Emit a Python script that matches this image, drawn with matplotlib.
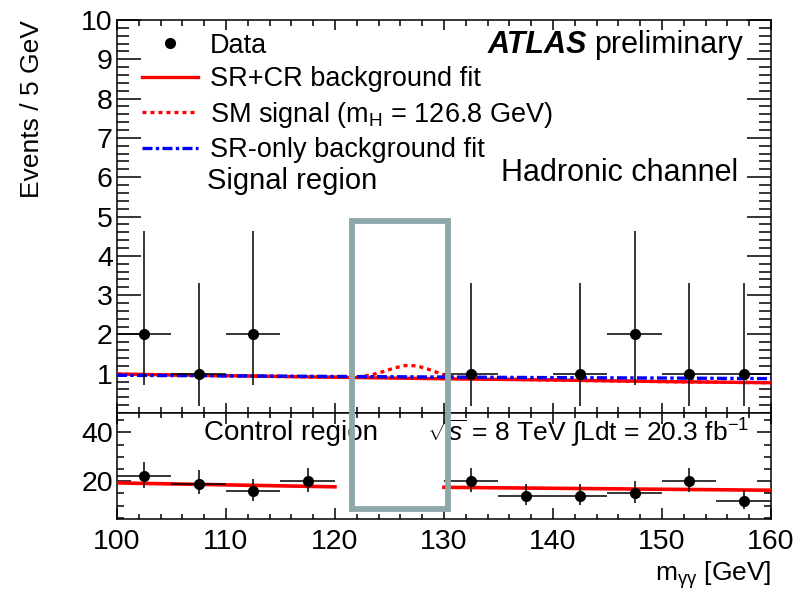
import numpy as np
import matplotlib
matplotlib.use("Agg")
from matplotlib import pyplot as plt
from matplotlib.lines import Line2D
from matplotlib.patches import Rectangle
from matplotlib.ticker import MultipleLocator, FixedLocator

# signal region data (blinded bins 122.5, 127.5 removed, zero bins not drawn)
sr_x = [102.5, 107.5, 112.5, 117.5, 132.5, 137.5, 142.5, 147.5, 152.5, 157.5]
sr_n = [2, 1, 2, 0, 1, 0, 1, 2, 1, 1]
sr_lo = [1.29, 0.83, 1.29, 0.0, 0.83, 0.0, 0.83, 1.29, 0.83, 0.83]
sr_hi = [2.64, 2.30, 2.64, 1.84, 2.30, 1.84, 2.30, 2.64, 2.30, 2.30]

# control region data
cr_x = [102.5, 107.5, 112.5, 117.5, 132.5, 137.5, 142.5, 147.5, 152.5, 157.5]
cr_n = [22, 19, 16, 20, 20, 14, 14, 15, 20, 12]
cr_lo = [4.65, 4.33, 3.97, 4.44, 4.44, 3.70, 3.70, 3.84, 4.44, 3.41]
cr_hi = [5.73, 5.40, 5.06, 5.52, 5.52, 4.80, 4.80, 4.93, 5.52, 4.52]

# fit curves
fit_x = [100, 110, 120, 130, 140, 150, 160]
fit_srcr = [0.99, 0.95, 0.91, 0.87, 0.84, 0.80, 0.77]
fit_sronly = [0.96, 0.945, 0.93, 0.915, 0.90, 0.89, 0.875]
sig_x = [100, 110, 120, 121.5, 122.5, 123.5, 124.5, 125.5, 126.5, 127.5, 128.5,
         129.5, 130.5, 131.5, 140, 150, 160]
sig_y = [0.99, 0.95, 0.91, 0.905, 0.93, 0.98, 1.06, 1.15, 1.21, 1.20, 1.12,
         1.02, 0.93, 0.88, 0.84, 0.80, 0.77]
cr_fit_x1 = [100, 110, 120]
cr_fit_y1 = [19.3, 18.5, 17.7]
cr_fit_x2 = [130, 140, 150, 160]
cr_fit_y2 = [17.5, 17.1, 16.7, 16.3]

plt.rcParams["font.family"] = ["Liberation Sans", "DejaVu Sans"]
plt.rcParams["mathtext.fontset"] = "custom"
plt.rcParams["mathtext.rm"] = "Liberation Sans"
plt.rcParams["mathtext.it"] = "Liberation Sans:italic"
plt.rcParams["font.size"] = 18

fig = plt.figure(figsize=(8.05, 5.94), dpi=100)
ax = fig.add_axes([0.1453, 0.3047, 0.8124, 0.6616])
ax2 = fig.add_axes([0.1453, 0.1263, 0.8124, 0.1784])

# upper panel
ax.plot(fit_x, fit_srcr, color="red", lw=2.4, zorder=3)
ax.plot(sig_x, sig_y, color="red", lw=2.4, ls=(0, (1.2, 1.2)), zorder=3)
ax.plot(fit_x, fit_sronly, color="blue", lw=2.4, ls=(0, (3, 1, 1, 1)), zorder=3)

n = np.array(sr_n, dtype=float)
mask = n > 0
ax.errorbar(np.array(sr_x)[mask], n[mask],
            yerr=[np.array(sr_lo)[mask], np.array(sr_hi)[mask]], xerr=2.5,
            fmt="o", color="black", ms=7, elinewidth=1.1, capsize=0, zorder=4)

ax.set_xlim(100, 160)
ax.set_ylim(0, 10)
ax.set_yticks(range(1, 11))
ax.yaxis.set_minor_locator(MultipleLocator(0.2))
ax.xaxis.set_major_locator(MultipleLocator(10))
ax.xaxis.set_minor_locator(MultipleLocator(2))
ax.tick_params(axis="both", which="both", direction="in", top=True, right=True, width=1.1)
ax.tick_params(axis="x", which="major", length=7.5, labelbottom=False)
ax.tick_params(axis="x", which="minor", length=4)
ax.tick_params(axis="y", which="major", length=17, pad=3, labelsize=20.5)
ax.tick_params(axis="y", which="minor", length=8.5)
for s in ax.spines.values():
    s.set_linewidth(1.1)
ax.set_ylabel("Events / 5 GeV", loc="top", fontsize=19)
ax.yaxis.set_label_coords(-0.111, 1.0)

handles = [
    Line2D([], [], marker="o", color="black", ls="none", ms=7),
    Line2D([], [], color="red", lw=2.4),
    Line2D([], [], color="red", lw=2.4, ls=(0, (1.2, 1.2))),
    Line2D([], [], color="blue", lw=2.4, ls=(0, (3, 1, 1, 1))),
]
labels = ["Data", "SR+CR background fit", r"SM signal (m$_\mathregular{H}$ = 126.8 GeV)",
          "SR-only background fit"]
ax.legend(handles, labels, loc="upper left", bbox_to_anchor=(0.03, 0.982), frameon=False,
          fontsize=19.5, handlelength=2.05, handletextpad=0.45, labelspacing=0.28,
          borderpad=0.2, borderaxespad=0)

prelim = ax.text(0.957, 0.936, "preliminary", transform=ax.transAxes,
                 ha="right", va="center", fontsize=22)
ax.annotate("ATLAS", xy=(0, 0), xycoords=prelim, xytext=(-5, 0),
            textcoords="offset points", ha="right", va="bottom", fontsize=22,
            fontweight="bold", fontstyle="italic")
ax.text(0.950, 0.611, "Hadronic channel", transform=ax.transAxes,
        ha="right", va="center", fontsize=22)
ax.text(0.138, 0.590, "Signal region", transform=ax.transAxes,
        ha="left", va="center", fontsize=21)

# lower panel
ax2.plot(cr_fit_x1, cr_fit_y1, color="red", lw=2.6, zorder=3)
ax2.plot(cr_fit_x2, cr_fit_y2, color="red", lw=2.6, zorder=3)
ax2.errorbar(cr_x, cr_n, yerr=[cr_lo, cr_hi], xerr=2.5, fmt="o", color="black",
             ms=7, elinewidth=1.1, capsize=0, zorder=4)
ax2.set_xlim(100, 160)
ax2.set_ylim(4.5, 48)
ax2.yaxis.set_major_locator(FixedLocator([20, 40]))
ax2.yaxis.set_minor_locator(MultipleLocator(5))
ax2.xaxis.set_major_locator(MultipleLocator(10))
ax2.xaxis.set_minor_locator(MultipleLocator(2))
ax2.tick_params(axis="both", which="both", direction="in", top=True, right=True, width=1.1)
ax2.tick_params(axis="x", which="major", length=8, pad=7, labelsize=20.5)
ax2.tick_params(axis="x", which="minor", length=3.5)
ax2.tick_params(axis="y", which="major", length=10, pad=3, labelsize=20.5)
ax2.tick_params(axis="y", which="minor", length=5)
for s in ax2.spines.values():
    s.set_linewidth(1.1)
ax2.set_xlabel(r"m$_\mathregular{γγ}$ [GeV]", loc="right", fontsize=19, labelpad=3)

ax2.text(0.133, 0.811, "Control region", transform=ax2.transAxes,
         ha="left", va="center", fontsize=20)
ax2.text(0.474, 0.811, r"$\sqrt{s}$ = 8 TeV $\int$Ldt = 20.3 fb$^{-1}$",
         transform=ax2.transAxes, ha="left", va="center", fontsize=19)

# highlight box over the blinded window
fig.add_artist(Rectangle((0.4373, 0.1439), 0.1192, 0.484, transform=fig.transFigure,
                         fill=False, edgecolor="#8ea7a9", lw=4.2, zorder=10))

fig.savefig("out.png", dpi=100)
